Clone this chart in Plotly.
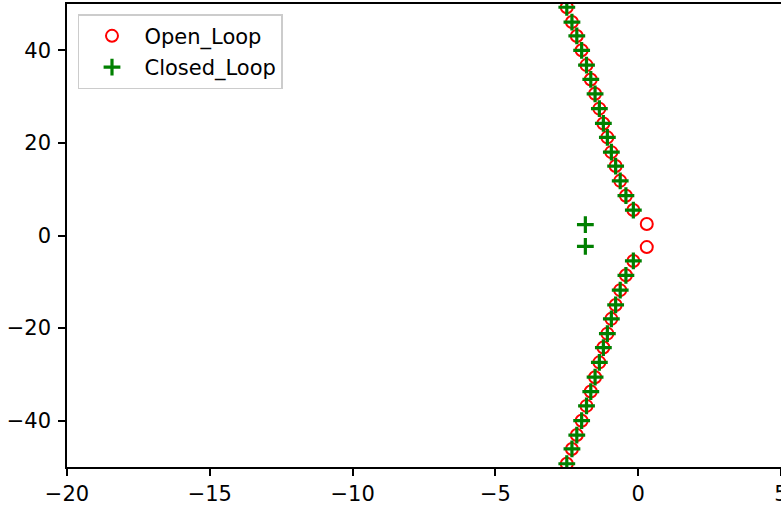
import plotly.graph_objects as go

# Upper branch (imag > 0)
branch_re = [-2.50, -2.32, -2.15, -1.98, -1.81, -1.66, -1.51, -1.36,
             -1.22, -1.08, -0.94, -0.79, -0.63, -0.43, -0.17]
branch_im = [49.3, 46.1, 43.1, 40.0, 36.8, 33.7, 30.6, 27.4,
             24.2, 21.2, 18.0, 15.0, 11.8, 8.6, 5.5]

open_extra_re = [0.30]
open_extra_im = [2.5]
closed_extra_re = [-1.85]
closed_extra_im = [2.35]

open_re = branch_re + open_extra_re
open_im = branch_im + open_extra_im
closed_re = branch_re + closed_extra_re
closed_im = branch_im + closed_extra_im

# full sets (conjugate pairs)
open_x = open_re + open_re
open_y = open_im + [-v for v in open_im]
closed_x = closed_re + closed_re
closed_y = closed_im + [-v for v in closed_im]

x_ticks = [-20, -15, -10, -5, 0, 5]
y_ticks = [-40, -20, 0, 20, 40]

FONT = "DejaVu Sans"
FS = 21

fig = go.Figure()
fig.add_trace(go.Scatter(
    x=open_x, y=open_y, mode="markers", name="Open_Loop", legendgroup="a",
    marker=dict(symbol="circle-open", size=12, color="red", line=dict(width=2, color="red")),
))
fig.add_trace(go.Scatter(
    x=closed_x, y=closed_y, mode="markers", name="Closed_Loop", legendgroup="b",
    marker=dict(symbol="cross-thin-open", size=12, color="green", line=dict(width=3.2, color="green")),
))

axis_common = dict(
    showgrid=False, zeroline=False, showline=True, linecolor="black", linewidth=1.5,
    mirror=True, ticks="outside", ticklen=7, tickwidth=1.5, tickcolor="black",
    tickfont=dict(family=FONT, size=FS, color="black"),
    automargin=False, ticklabeloverflow="allow",
)
fig.update_xaxes(range=[-20, 5], tickvals=x_ticks, ticklabelstandoff=0, **axis_common)
fig.update_yaxes(range=[-50, 50], tickvals=y_ticks, ticklabelstandoff=3, **axis_common)

fig.update_layout(
    width=781, height=506,
    margin=dict(l=67, r=0, t=4, b=39),
    paper_bgcolor="white", plot_bgcolor="white",
    font=dict(family=FONT, size=FS, color="black"),
    showlegend=True,
    legend=dict(
        x=0.0154, y=0.978, xanchor="left", yanchor="top",
        bgcolor="rgba(255,255,255,0.8)", bordercolor="#cccccc", borderwidth=1.5,
        font=dict(family=FONT, size=FS, color="black"),
        itemwidth=55, tracegroupgap=1,
    ),
)

fig.write_html(
    "out.html",
    config={"displayModeBar": False},
    post_script="document.body.style.margin='0';document.body.style.overflow='hidden';",
)
